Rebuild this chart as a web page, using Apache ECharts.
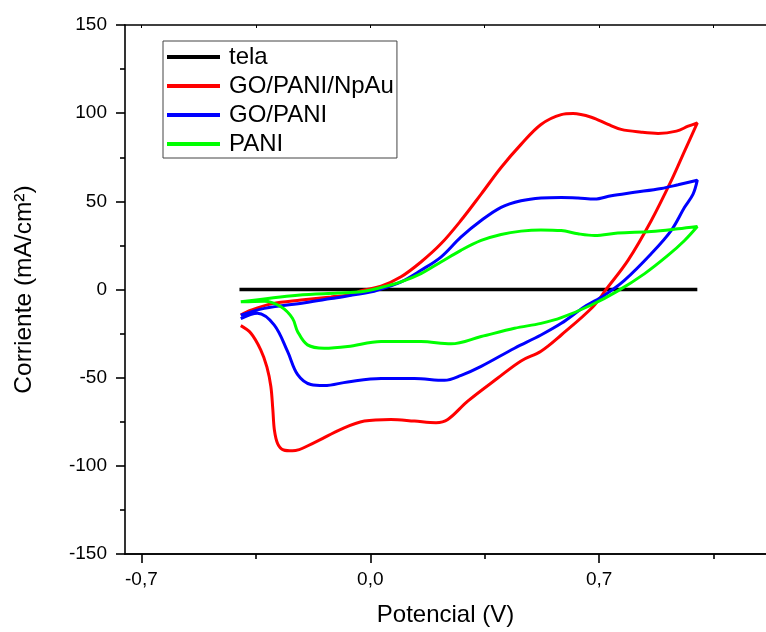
<!DOCTYPE html>
<html>
<head>
<meta charset="utf-8">
<script src="https://cdn.jsdelivr.net/npm/echarts@6/dist/echarts.min.js"></script>
<style>html,body{margin:0;padding:0;background:#fff}#c{width:766px;height:632px}</style>
</head>
<body>
<div id="c"></div>
<script>
// ---- data ----
var seriesNames = ['tela', 'GO/PANI/NpAu', 'GO/PANI', 'PANI'];
var xTickLabels = [-0.7, 0, 0.7];
var xMinorTicks = [-0.35, 0.35, 1.05];

var telaV = [-0.4, -0.2, 0, 0.2, 0.4, 0.6, 0.8, 1.0];
var telaI = [0, 0, 0, 0, 0, 0, 0, 0];

var redV = [-0.396, -0.365, -0.3, -0.212, -0.12, -0.059, -0.03, 0.033, 0.094, 0.155, 0.216, 0.277, 0.339, 0.400, 0.461, 0.522, 0.584, 0.620, 0.676, 0.727, 0.767, 0.829, 0.880, 0.936, 0.972, 1.0,
            0.961, 0.920, 0.859, 0.788, 0.721, 0.681, 0.584, 0.522, 0.461, 0.390, 0.298, 0.237, 0.201, 0.135, 0.063, -0.018, -0.090, -0.171, -0.238, -0.265, -0.283, -0.293, -0.298, -0.304, -0.316, -0.335, -0.365, -0.396];
var redI = [-14.5, -11.7, -8, -6, -4.2, -3, -0.8, 1.9, 7.2, 15.6, 25.9, 39.1, 54.1, 69.2, 82.3, 93.6, 99.2, 99.8, 97.7, 93.6, 90.8, 89.2, 88.5, 89.8, 92.6, 94.5,
            78.5, 61.6, 39, 16.5, 0, -9.8, -25.8, -35, -40.5, -50.2, -63.3, -73.7, -75.5, -74.6, -73.7, -74.6, -79.3, -86.8, -91.5, -91, -87.5, -80, -68, -55, -44, -34.2, -24.8, -20.5];

var blueV = [-0.396, -0.324, -0.2, -0.12, 0.0, 0.033, 0.094, 0.155, 0.216, 0.277, 0.339, 0.400, 0.461, 0.522, 0.584, 0.635, 0.686, 0.737, 0.808, 0.890, 0.941, 1.0,
             0.987, 0.961, 0.920, 0.859, 0.777, 0.716, 0.655, 0.584, 0.522, 0.441, 0.339, 0.278, 0.227, 0.135, 0.033, -0.069, -0.141, -0.182, -0.222, -0.253, -0.294, -0.345, -0.396];
var blueI = [-14.5, -10.7, -7.5, -5.1, -1.5, 0.3, 4.3, 10.9, 18.4, 29.7, 39.1, 46.6, 50.3, 51.9, 52.2, 51.9, 51.3, 53.2, 55.1, 57.3, 59.4, 62,
             54.1, 46.6, 33.4, 20.3, 5.2, -3.2, -9.8, -19.2, -25.8, -33.3, -43.6, -48.7, -51.5, -50.5, -50.5, -52.4, -54.5, -53.9, -48.3, -35.1, -20.1, -13.5, -16.5];

var greenV = [-0.396, -0.222, -0.1, -0.028, 0.033, 0.094, 0.155, 0.216, 0.277, 0.339, 0.400, 0.461, 0.522, 0.584, 0.635, 0.686, 0.757, 0.859, 0.941, 1.0,
              0.961, 0.910, 0.839, 0.757, 0.676, 0.584, 0.522, 0.441, 0.339, 0.247, 0.155, 0.033, -0.069, -0.141, -0.192, -0.222, -0.238, -0.273, -0.324, -0.396];
var greenI = [-7, -3.2, -2, -1.3, 1.1, 4.3, 9, 15.6, 22.2, 27.8, 31.2, 33.1, 33.8, 33.4, 31.6, 30.6, 32, 32.9, 34.4, 35.7,
              27.8, 19.3, 9, -0.8, -8.8, -16, -19.2, -22, -26.7, -30.8, -29.5, -29.5, -32.3, -33.3, -31.4, -23.9, -16.3, -9.8, -6.6, -7];

// ---- chart ----
function pairs(v, i) { return v.map(function (x, k) { return [x, i[k]]; }); }
var FONT = '"Liberation Sans", Arial, sans-serif';
var axisLineStyle = { color: '#000', width: 1.6 };

var chart = echarts.init(document.getElementById('c'), null, { renderer: 'canvas' });
var option = {
  backgroundColor: '#fff',
  animation: false,
  grid: { left: 125, top: 25, right: 0, bottom: 75 },
  legend: {
    orient: 'vertical',
    left: 163, top: 41,
    padding: [4, 3, 2, 4],
    borderColor: '#444', borderWidth: 1,
    itemWidth: 53, itemHeight: 4, itemGap: 5,
    icon: 'rect',
    data: seriesNames,
    textStyle: { fontFamily: FONT, fontSize: 24, color: '#000', lineHeight: 24, padding: [0, 0, 0, 4] }
  },
  xAxis: [
    {
      type: 'value', min: -0.75, max: 1.21, position: 'bottom',
      name: 'Potencial (V)', nameLocation: 'middle', nameGap: 49,
      nameTextStyle: { fontFamily: FONT, fontSize: 24, color: '#000' },
      axisLine: { show: true, onZero: false, lineStyle: axisLineStyle },
      axisTick: { show: true, length: 9, customValues: xTickLabels, lineStyle: axisLineStyle },
      axisLabel: { customValues: xTickLabels, margin: 16, fontFamily: FONT, fontSize: 19, color: '#000',
        formatter: function (v) { return v.toFixed(1).replace('.', ','); } },
      splitLine: { show: false }
    },
    {
      type: 'value', min: -0.75, max: 1.21, position: 'bottom',
      axisLine: { show: true, onZero: false, lineStyle: axisLineStyle },
      axisTick: { show: true, length: 5, customValues: xMinorTicks, lineStyle: axisLineStyle },
      axisLabel: { show: false },
      splitLine: { show: false }
    },
    {
      type: 'value', min: -0.75, max: 1.21, position: 'top',
      axisLine: { show: true, onZero: false, lineStyle: axisLineStyle },
      axisTick: { show: true, inside: true, length: 3, customValues: xTickLabels.concat(xMinorTicks), lineStyle: { color: '#000', width: 1 } },
      axisLabel: { show: false },
      splitLine: { show: false }
    }
  ],
  yAxis: {
    type: 'value', min: -150, max: 150, interval: 50, position: 'left',
    name: 'Corriente (mA/cm²)', nameLocation: 'middle', nameGap: 88,
    nameTextStyle: { fontFamily: FONT, fontSize: 24.5, color: '#000' },
    axisLine: { show: true, onZero: false, lineStyle: axisLineStyle },
    axisTick: { show: true, length: 9, lineStyle: axisLineStyle },
    minorTick: { show: true, splitNumber: 2, length: 5, lineStyle: axisLineStyle },
    axisLabel: { margin: 18, fontFamily: FONT, fontSize: 19, color: '#000' },
    splitLine: { show: false }
  },
  series: [
    { name: 'tela', type: 'line', xAxisIndex: 0, data: pairs(telaV, telaI), showSymbol: false, symbol: 'none', lineStyle: { color: '#000', width: 3.5 }, itemStyle: { color: '#000' } },
    { name: 'GO/PANI/NpAu', type: 'line', data: pairs(redV, redI), smooth: 0.35, showSymbol: false, symbol: 'none', lineStyle: { color: '#ff0000', width: 3 }, itemStyle: { color: '#ff0000' } },
    { name: 'GO/PANI', type: 'line', data: pairs(blueV, blueI), smooth: 0.35, showSymbol: false, symbol: 'none', lineStyle: { color: '#0000ff', width: 3 }, itemStyle: { color: '#0000ff' } },
    { name: 'PANI', type: 'line', data: pairs(greenV, greenI), smooth: 0.35, showSymbol: false, symbol: 'none', lineStyle: { color: '#00ff00', width: 3 }, itemStyle: { color: '#00ff00' } }
  ]
};
chart.setOption(option);
</script>
</body>
</html>
